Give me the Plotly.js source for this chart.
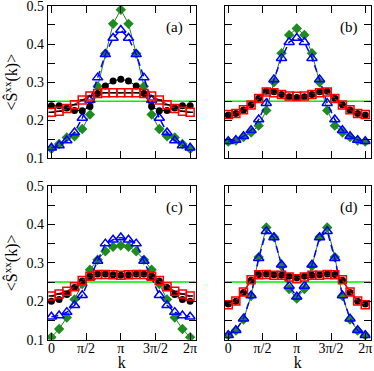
<!DOCTYPE html>
<html>
<head>
<meta charset="utf-8">
<script src="https://cdn.plot.ly/plotly-3.0.1.min.js"></script>
<style>
  html, body { margin: 0; padding: 0; background: #fff; }
  #chart { width: 374px; height: 371px; }
</style>
</head>
<body>
<div id="chart"></div>
<script>
// momentum grid k = 2*pi*n/18, n = 0..18
const kVals = [0, 0.349, 0.698, 1.047, 1.396, 1.745, 2.094, 2.443, 2.793, 3.142,
               3.491, 3.840, 4.189, 4.538, 4.887, 5.236, 5.585, 5.934, 6.283];

const refLevel = 0.25;

// panel (a)
const blackA = [0.238, 0.238, 0.232, 0.226, 0.225, 0.236, 0.270, 0.290, 0.303, 0.308, 0.303, 0.290, 0.270, 0.236, 0.225, 0.226, 0.232, 0.238, 0.238];
const redA   = [0.221, 0.224, 0.231, 0.241, 0.253, 0.264, 0.270, 0.272, 0.272, 0.272, 0.272, 0.272, 0.270, 0.264, 0.253, 0.241, 0.231, 0.224, 0.221];
const blueA  = [0.128, 0.134, 0.147, 0.168, 0.206, 0.253, 0.312, 0.373, 0.416, 0.437, 0.416, 0.373, 0.312, 0.253, 0.206, 0.168, 0.147, 0.134, 0.128];
const greenA = [0.125, 0.138, 0.155, 0.158, 0.177, 0.215, 0.289, 0.375, 0.453, 0.490, 0.453, 0.375, 0.289, 0.215, 0.177, 0.158, 0.155, 0.138, 0.125];

// panel (b)
const blackB = [0.214, 0.218, 0.227, 0.241, 0.258, 0.276, 0.275, 0.268, 0.262, 0.260, 0.262, 0.268, 0.275, 0.276, 0.258, 0.241, 0.227, 0.218, 0.214];
const redB   = [0.215, 0.218, 0.228, 0.240, 0.257, 0.274, 0.272, 0.268, 0.264, 0.263, 0.264, 0.268, 0.272, 0.274, 0.257, 0.240, 0.228, 0.218, 0.215];
const blueB  = [0.145, 0.148, 0.158, 0.174, 0.202, 0.245, 0.307, 0.363, 0.405, 0.416, 0.405, 0.363, 0.307, 0.245, 0.202, 0.174, 0.158, 0.148, 0.145];
const greenB = [0.144, 0.147, 0.156, 0.168, 0.186, 0.226, 0.300, 0.376, 0.424, 0.441, 0.424, 0.376, 0.300, 0.226, 0.186, 0.168, 0.156, 0.147, 0.144];

// panel (c)
const blackC = [0.200, 0.205, 0.218, 0.236, 0.253, 0.266, 0.271, 0.271, 0.269, 0.268, 0.269, 0.271, 0.271, 0.266, 0.253, 0.236, 0.218, 0.205, 0.200];
const redC   = [0.214, 0.219, 0.226, 0.238, 0.254, 0.265, 0.270, 0.270, 0.269, 0.268, 0.269, 0.270, 0.270, 0.265, 0.254, 0.238, 0.226, 0.219, 0.214];
const blueC  = [0.160, 0.163, 0.172, 0.190, 0.216, 0.262, 0.305, 0.350, 0.360, 0.366, 0.360, 0.350, 0.305, 0.262, 0.216, 0.190, 0.172, 0.163, 0.160];
const greenC = [0.107, 0.128, 0.158, 0.205, 0.245, 0.282, 0.308, 0.330, 0.342, 0.345, 0.342, 0.330, 0.308, 0.282, 0.245, 0.205, 0.158, 0.128, 0.107];

// panel (d)
const blackD = [0.193, 0.200, 0.223, 0.255, 0.270, 0.271, 0.269, 0.268, 0.265, 0.261, 0.265, 0.268, 0.269, 0.271, 0.270, 0.255, 0.223, 0.200, 0.193];
const redD   = [0.191, 0.201, 0.224, 0.256, 0.269, 0.270, 0.268, 0.268, 0.263, 0.259, 0.263, 0.268, 0.268, 0.270, 0.269, 0.256, 0.224, 0.201, 0.191];
const blueD  = [0.112, 0.125, 0.155, 0.215, 0.312, 0.382, 0.366, 0.295, 0.240, 0.212, 0.240, 0.295, 0.366, 0.382, 0.312, 0.215, 0.155, 0.125, 0.112];
const greenD = [0.112, 0.124, 0.153, 0.214, 0.315, 0.392, 0.367, 0.292, 0.232, 0.207, 0.232, 0.292, 0.367, 0.392, 0.315, 0.214, 0.153, 0.124, 0.112];

const xTickVals = [0, Math.PI / 2, Math.PI, 3 * Math.PI / 2, 2 * Math.PI];
const xTickText = ['0', 'π/2', 'π', '3π/2', '2π'];
const yTickVals = [0.1, 0.2, 0.3, 0.4, 0.5];
const yTickText = ['0.1', '0.2', '0.3', '0.4', '0.5'];

const panels = [
    {id: '',  label: '(a)', black: blackA, red: redA, blue: blueA, green: greenA},
    {id: '2', label: '(b)', black: blackB, red: redB, blue: blueB, green: greenB},
    {id: '3', label: '(c)', black: blackC, red: redC, blue: blueC, green: greenC},
    {id: '4', label: '(d)', black: blackD, red: redD, blue: blueD, green: greenD}
];

const serif = 'Liberation Serif, Times New Roman, serif';
const greenCol = '#1f8a1f';

function panelTraces(p) {
    const xa = 'x' + p.id, ya = 'y' + p.id;
    return [
        {x: kVals, y: p.green, xaxis: xa, yaxis: ya, type: 'scatter', mode: 'lines+markers',
         line: {color: greenCol, width: 1},
         marker: {symbol: 'diamond', size: 8, color: greenCol}},
        {x: kVals, y: p.blue, xaxis: xa, yaxis: ya, type: 'scatter', mode: 'lines+markers',
         line: {color: '#0000ff', width: 1.5, dash: '7px,4px'},
         marker: {symbol: 'triangle-up-open', size: 9, color: '#0000ff', line: {width: 1.5}}},
        {x: kVals, y: p.black, xaxis: xa, yaxis: ya, type: 'scatter', mode: 'lines+markers',
         line: {color: '#000', width: 1},
         marker: {symbol: 'circle', size: 7, color: '#000'}},
        {x: kVals, y: p.red, xaxis: xa, yaxis: ya, type: 'scatter', mode: 'lines+markers',
         line: {color: '#ff0000', width: 1.5},
         marker: {symbol: 'square-open', size: 8, color: '#ff0000', line: {width: 1.5}}},
        {x: kVals, y: p.red, xaxis: xa, yaxis: ya, type: 'scatter', mode: 'markers',
         marker: {symbol: 'line-ew-open', size: 4, color: '#000', line: {width: 1.5, color: '#000'}}}
    ];
}

let data = [];
panels.forEach(p => { data = data.concat(panelTraces(p)); });

const colDom = [[0.128, 0.523], [0.601, 0.991]];
const rowDom = [[0.573, 0.984], [0.084, 0.499]];

function xAxis(col, row, anchor) {
    const ax = {
        domain: colDom[col], anchor: anchor, range: [-0.16, 6.53],
        showgrid: false, zeroline: false,
        showline: true, linecolor: '#000', linewidth: 1, mirror: 'allticks',
        ticks: 'inside', ticklen: 7, tickwidth: 1, tickcolor: '#000',
        tickvals: xTickVals, ticktext: xTickText,
        showticklabels: row === 1, ticklabelstandoff: -5, ticklabeloverflow: 'allow',
        tickfont: {family: serif, size: 14, color: '#000'}
    };
    if (row === 1) ax.title = {text: 'k', font: {family: serif, size: 16, color: '#000'}, standoff: 14};
    return ax;
}

function yAxis(col, row, anchor) {
    const ax = {
        domain: rowDom[row], anchor: anchor, range: [0.1, 0.5],
        showgrid: false, zeroline: false,
        showline: true, linecolor: '#000', linewidth: 1, mirror: 'allticks',
        ticks: 'inside', ticklen: 7, tickwidth: 1, tickcolor: '#000',
        tickvals: yTickVals, ticktext: yTickText, ticklabeloverflow: 'allow',
        minor: {tickvals: [0.15, 0.25, 0.35, 0.45], ticks: 'inside', ticklen: 7, tickcolor: '#000', tickwidth: 1, showgrid: false},
        showticklabels: col === 0,
        tickfont: {family: serif, size: 14, color: '#000'}
    };
    if (col === 0) ax.title = {text: '&lt;Ŝ<sup>xx</sup>(k)&gt;', font: {family: serif, size: 16, color: '#000'}, standoff: 4};
    return ax;
}

const layout = {
    width: 374, height: 371,
    margin: {l: 0, r: 0, t: 0, b: 0},
    paper_bgcolor: '#fff', plot_bgcolor: '#fff',
    showlegend: false,
    xaxis:  xAxis(0, 0, 'y'),  yaxis:  yAxis(0, 0, 'x'),
    xaxis2: xAxis(1, 0, 'y2'), yaxis2: yAxis(1, 0, 'x2'),
    xaxis3: xAxis(0, 1, 'y3'), yaxis3: yAxis(0, 1, 'x3'),
    xaxis4: xAxis(1, 1, 'y4'), yaxis4: yAxis(1, 1, 'x4'),
    shapes: panels.map(p => ({
        type: 'line', xref: 'x' + p.id + ' domain', yref: 'y' + p.id,
        x0: 0, x1: 1, y0: refLevel, y1: refLevel,
        line: {color: '#00ee00', width: 1.5}, layer: 'below'
    })),
    annotations: panels.map(p => ({
        text: p.label, xref: 'x' + p.id + ' domain', yref: 'y' + p.id + ' domain',
        x: 0.93, y: 0.86, xanchor: 'right', yanchor: 'middle', showarrow: false,
        font: {family: serif, size: 15, color: '#000'}
    }))
};

Plotly.newPlot('chart', data, layout, {staticPlot: true, displayModeBar: false});
</script>
</body>
</html>
